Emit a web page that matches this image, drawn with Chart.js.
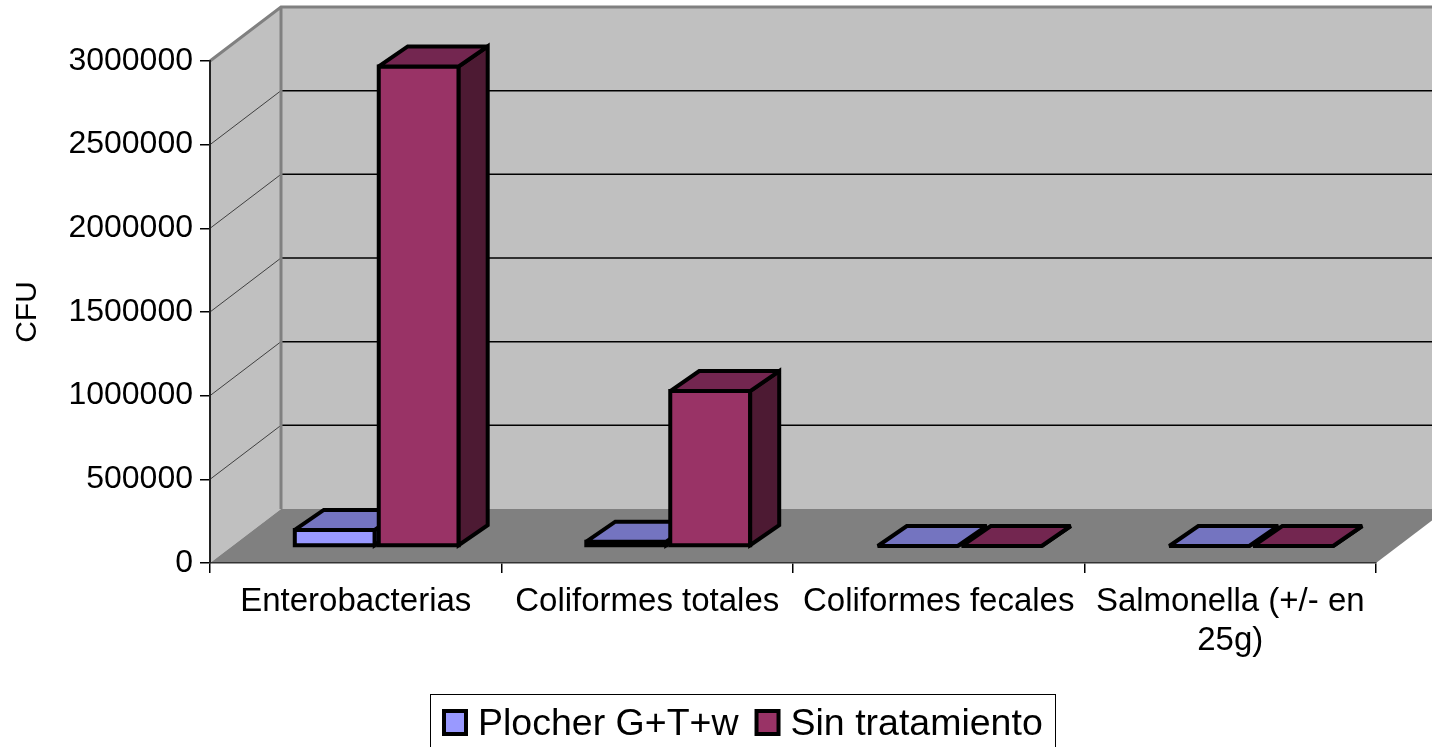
<!DOCTYPE html>
<html>
<head>
<meta charset="utf-8">
<script src="https://cdn.jsdelivr.net/npm/chart.js@4/dist/chart.umd.min.js"></script>
<style>
  html, body { margin: 0; padding: 0; background: #fff; }
  #wrap { width: 1432px; height: 747px; }
</style>
</head>
<body>
<div id="wrap"><canvas id="myChart" width="1432" height="747"></canvas></div>
<script>
// data
var categories = ["Enterobacterias", "Coliformes totales", "Coliformes fecales", ["Salmonella (+/- en", "25g)"]];
var plocher = [120000, 50000, 0, 0];
var sinTratamiento = [2890000, 950000, 0, 0];
var yTicks = [0, 500000, 1000000, 1500000, 2000000, 2500000, 3000000];

// 3D look: depth of the box, offset of the bar fronts and depth of the bars
var DX = 71, DY = -54;
var BAR_OFF_X = 21, BAR_OFF_Y = -15;
var BAR_DX = 29, BAR_DY = -20;
var EDGE = 4;

// top / side shades per dataset
var shades = [
    { top: "#7474C0", side: "#4D4D80" },
    { top: "#732650", side: "#4D1A33" }
];

Chart.defaults.font.family = "'Liberation Sans', Arial, sans-serif";
Chart.defaults.color = "#000";

function drawBar(ctx, p, front, s) {
    var h = EDGE / 2;
    var x1 = p.x - p.width / 2 + BAR_OFF_X + h, x2 = p.x + p.width / 2 + BAR_OFF_X - h;
    var bot = p.base + BAR_OFF_Y - h;
    var top = Math.min(p.y + BAR_OFF_Y + h, bot);
    ctx.lineWidth = EDGE;
    ctx.lineJoin = "miter";
    ctx.miterLimit = 2.5;
    ctx.strokeStyle = "#000";
    // front face
    ctx.fillStyle = front;
    ctx.beginPath();
    ctx.rect(x1, top, x2 - x1, bot - top);
    ctx.fill(); ctx.stroke();
    // side face
    ctx.fillStyle = s.side;
    ctx.beginPath();
    ctx.moveTo(x2, top); ctx.lineTo(x2 + BAR_DX, top + BAR_DY);
    ctx.lineTo(x2 + BAR_DX, bot + BAR_DY); ctx.lineTo(x2, bot);
    ctx.closePath(); ctx.fill(); ctx.stroke();
    // top face
    ctx.fillStyle = s.top;
    ctx.beginPath();
    ctx.moveTo(x1, top); ctx.lineTo(x2, top);
    ctx.lineTo(x2 + BAR_DX, top + BAR_DY); ctx.lineTo(x1 + BAR_DX, top + BAR_DY);
    ctx.closePath(); ctx.fill(); ctx.stroke();
}

var walls = {
    id: "walls",
    beforeDraw: function (chart) {
        var ctx = chart.ctx, a = chart.chartArea;
        var L = a.left, R = a.right, T = a.top, B = a.bottom;
        var y = chart.scales.y;
        ctx.save();
        // back wall
        ctx.fillStyle = "#C0C0C0";
        ctx.fillRect(L + DX, T + DY, R - L, B - T);
        // left wall
        ctx.beginPath();
        ctx.moveTo(L, T); ctx.lineTo(L + DX, T + DY); ctx.lineTo(L + DX, B + DY); ctx.lineTo(L, B);
        ctx.closePath(); ctx.fill();
        // floor
        ctx.fillStyle = "#808080";
        ctx.beginPath();
        ctx.moveTo(L, B); ctx.lineTo(R, B); ctx.lineTo(R + DX, B + DY); ctx.lineTo(L + DX, B + DY);
        ctx.closePath(); ctx.fill();
        // gridlines
        yTicks.forEach(function (v) {
            if (v === 0 || v === yTicks[yTicks.length - 1]) return;
            var py = y.getPixelForValue(v);
            ctx.strokeStyle = "#404040"; ctx.lineWidth = 1;
            ctx.beginPath(); ctx.moveTo(L, py); ctx.lineTo(L + DX, py + DY); ctx.stroke();
            ctx.strokeStyle = "#000"; ctx.lineWidth = 1.5;
            ctx.beginPath(); ctx.moveTo(L + DX, py + DY); ctx.lineTo(R + DX, py + DY); ctx.stroke();
        });
        // wall edges
        ctx.strokeStyle = "#808080"; ctx.lineWidth = 3;
        ctx.beginPath();
        ctx.moveTo(L, T); ctx.lineTo(L + DX, T + DY); ctx.lineTo(R + DX, T + DY);
        ctx.moveTo(L + DX, T + DY); ctx.lineTo(L + DX, B + DY);
        ctx.stroke();
        ctx.restore();
    },
    // the boxes are drawn below, left to right, so skip the flat bars
    beforeDatasetDraw: function () { return false; },
    afterDatasetsDraw: function (chart) {
        var ctx = chart.ctx;
        var metas = chart.data.datasets.map(function (ds, i) { return chart.getDatasetMeta(i); });
        ctx.save();
        for (var j = 0; j < chart.data.labels.length; j++) {
            metas.forEach(function (meta, i) {
                var p = meta.data[j].getProps(["x", "y", "base", "width"], true);
                drawBar(ctx, p, chart.data.datasets[i].backgroundColor, shades[i]);
            });
        }
        ctx.restore();
    },
    afterDraw: function (chart) {
        // legend box
        var ctx = chart.ctx;
        ctx.save();
        ctx.strokeStyle = "#000"; ctx.lineWidth = 1;
        ctx.strokeRect(430.5, 694.5, 625, 70);
        ctx.font = "37.5px 'Liberation Sans', Arial, sans-serif";
        ctx.textBaseline = "alphabetic";
        var x = 442;
        chart.data.datasets.forEach(function (ds) {
            ctx.fillStyle = "#000";
            ctx.fillRect(x, 709, 26, 27);
            ctx.fillStyle = ds.backgroundColor;
            ctx.fillRect(x + 4, 713, 18, 19);
            ctx.fillStyle = "#000";
            ctx.fillText(ds.label, x + 36, 735);
            x += 36 + ctx.measureText(ds.label).width + 16;
        });
        ctx.restore();
    }
};

var ctx = document.getElementById("myChart").getContext("2d");

var myBarChart = new Chart(ctx, {
    type: "bar",
    data: {
        labels: categories,
        datasets: [
            {
                label: "Plocher G+T+w",
                data: plocher,
                backgroundColor: "#9999FF",
                borderColor: "#000",
                borderWidth: EDGE
            },
            {
                label: "Sin tratamiento",
                data: sinTratamiento,
                backgroundColor: "#993366",
                borderColor: "#000",
                borderWidth: EDGE
            }
        ]
    },
    options: {
        responsive: false,
        animation: false,
        events: [],
        layout: { padding: { top: 61, right: 56, left: 0, bottom: 0 } },
        datasets: { bar: { categoryPercentage: 0.576, barPercentage: 1.0 } },
        plugins: {
            legend: { display: false },
            tooltip: { enabled: false }
        },
        scales: {
            x: {
                grid: { offset: true, drawOnChartArea: false, drawTicks: true, tickLength: 10, color: "#000", lineWidth: 1.5 },
                border: { display: true, color: "#333", width: 1.5 },
                ticks: { font: { size: 33 }, padding: 9, maxRotation: 0, autoSkip: false, color: "#000" },
                afterFit: function (s) { s.height = 184; }
            },
            y: {
                min: 0,
                max: 3000000,
                afterBuildTicks: function (s) { s.ticks = yTicks.map(function (v) { return { value: v }; }); },
                grid: { drawOnChartArea: false, drawTicks: true, tickLength: 10, color: "#000", lineWidth: 1.5 },
                border: { display: true, color: "#222", width: 2 },
                ticks: { font: { size: 32 }, padding: 7, color: "#000", callback: function (v) { return String(v); } },
                title: { display: true, text: "CFU", font: { size: 30 }, padding: { top: 10 }, color: "#000" },
                afterFit: function (s) { s.width = 210; }
            }
        }
    },
    plugins: [walls]
});
</script>
</body>
</html>
